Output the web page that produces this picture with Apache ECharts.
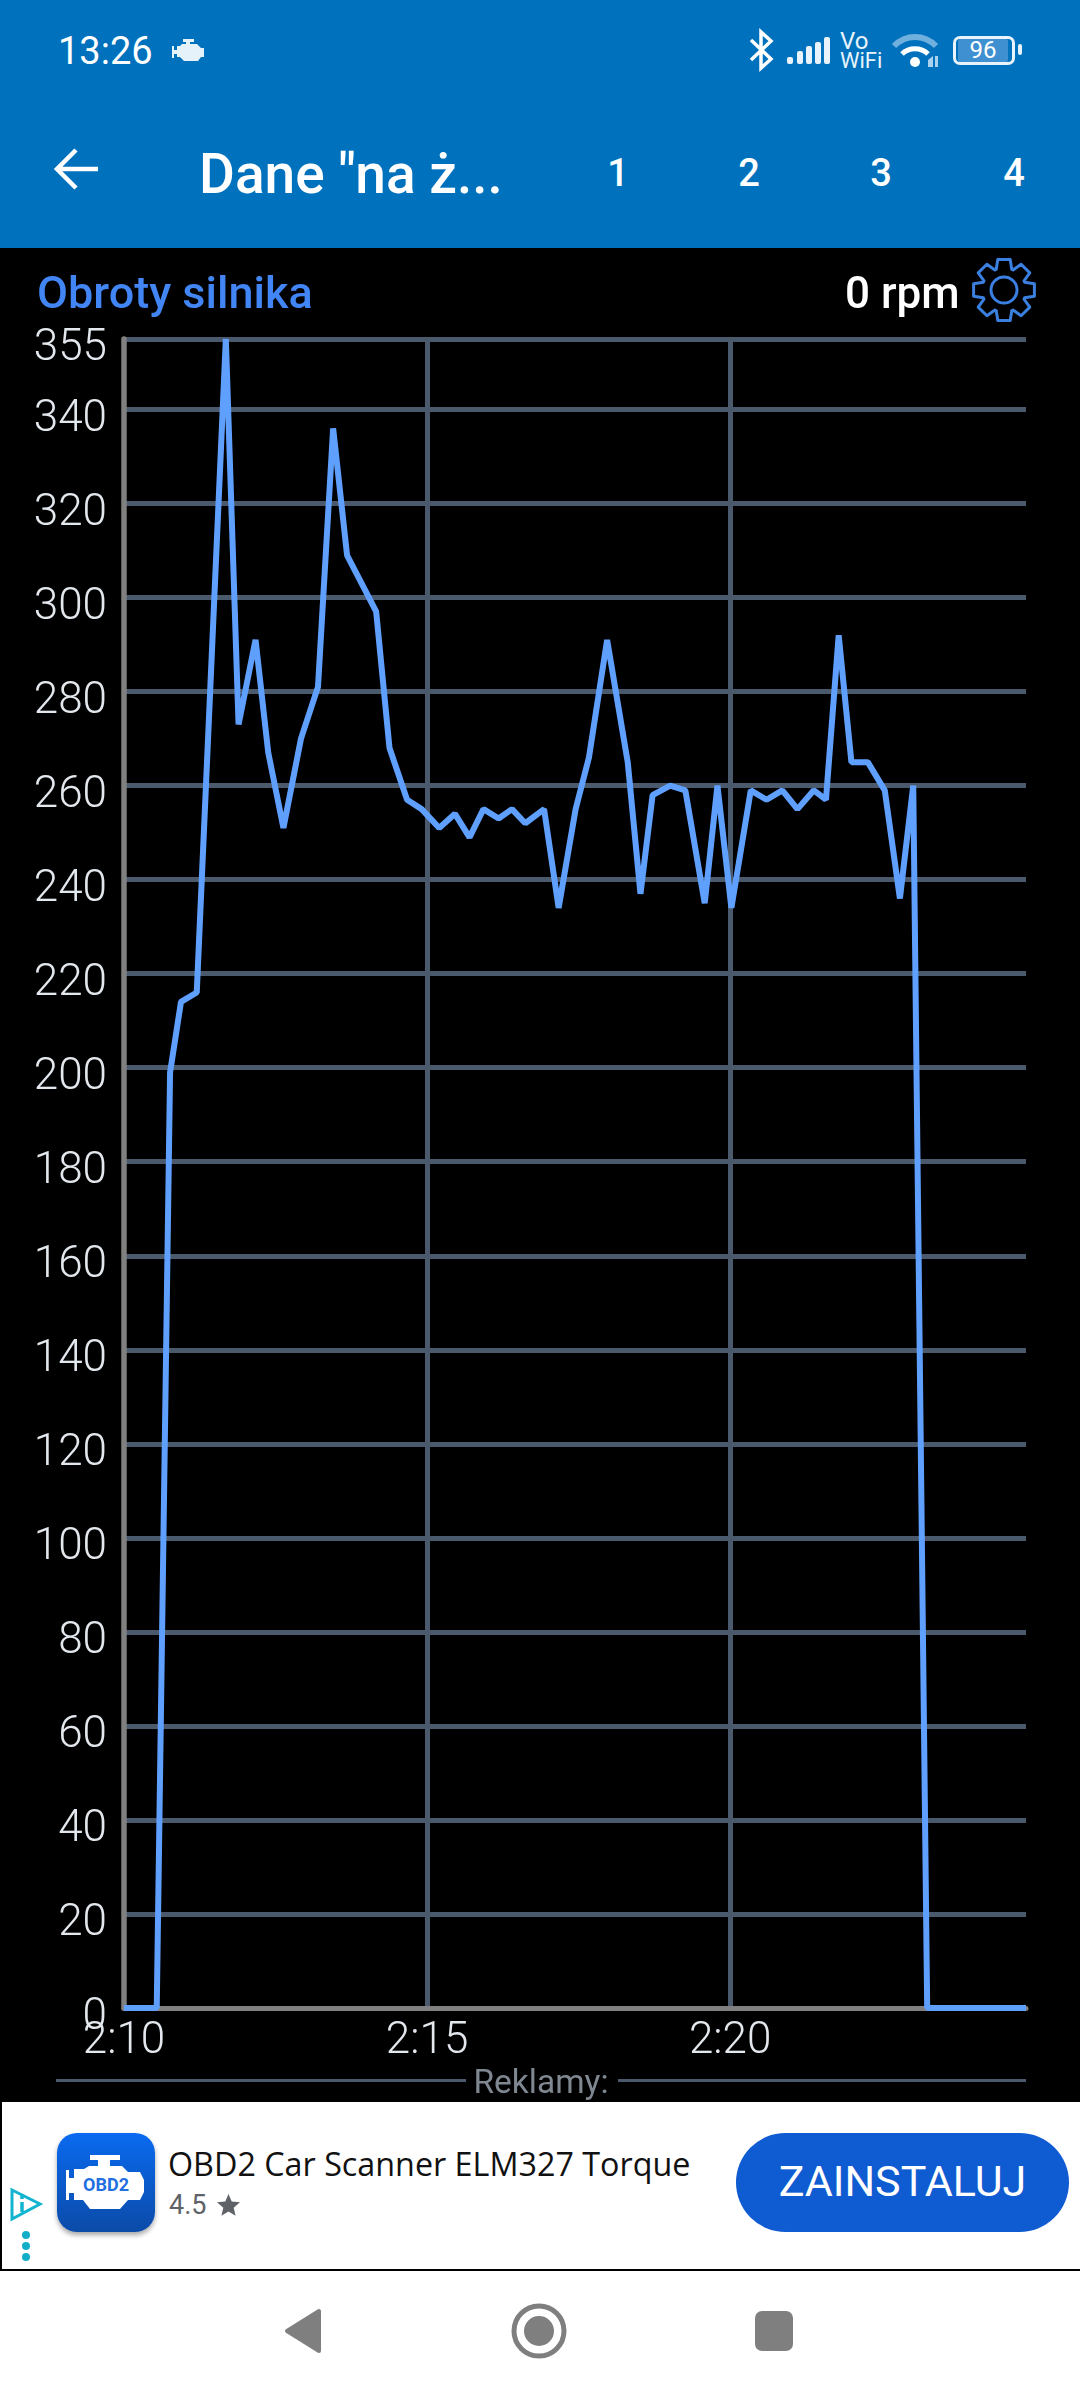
<!DOCTYPE html>
<html lang="pl">
<head>
<meta charset="utf-8">
<title>Obroty silnika</title>
<script src="https://cdn.jsdelivr.net/npm/echarts@6/dist/echarts.min.js"></script>
<style>
    html, body { margin: 0; padding: 0; background: #000; }
    #page { position: relative; width: 1080px; height: 2400px; overflow: hidden; background: #000; font-family: Roboto, sans-serif; }
    #chart { position: absolute; left: 0; top: 0; width: 1080px; height: 2400px; }
    .t { position: absolute; white-space: nowrap; line-height: 1; }
    .box { position: absolute; }
    svg { position: absolute; overflow: visible; }
</style>
</head>
<body>
<div id="page">
    <div id="chart"></div>

    <!-- app bar -->
    <div class="box" style="left:0;top:0;width:1080px;height:248px;background:#0071bc"></div>
    <div class="t" style="left:58px;top:32px;font-size:38px;color:#fff">13:26</div>
    <svg style="left:172px;top:38px" width="34" height="24" viewBox="0 0 34 24">
        <path fill="#e6f2fa" d="M11 1h11v3h-4v2h7l4 4h3v9h-3l-3 4H12l-4-4H5v-3H2v4H0V8h2v4h3V8h3l2-2h4V4h-3z"/>
    </svg>
    <!-- bluetooth -->
    <svg style="left:749px;top:30px" width="24" height="40" viewBox="0 0 24 40">
        <path fill="none" stroke="#fff" stroke-width="3.5" d="M2 10 22 29 12 38V2l10 9L2 30"/>
    </svg>
    <!-- signal -->
    <svg style="left:787px;top:37px" width="44" height="27" viewBox="0 0 44 27" fill="#e8f3fb">
        <rect x="0" y="20" width="6" height="7" rx="2"/><rect x="10" y="14" width="6" height="13" rx="2"/>
        <rect x="19" y="9" width="6" height="18" rx="2"/><rect x="28" y="5" width="6" height="22" rx="2"/>
        <rect x="37" y="0" width="6" height="27" rx="2"/>
    </svg>
    <div class="t" style="left:840px;top:29px;font-size:24px;color:#e8f3fb">Vo</div>
    <div class="t" style="left:840px;top:50px;font-size:22px;color:#e8f3fb">WiFi</div>
    <!-- wifi -->
    <svg style="left:892px;top:33px" width="46" height="35" viewBox="0 0 46 35" fill="none">
        <path stroke="#6fb0de" stroke-width="6" d="M2 13C14 1 32 1 44 13"/>
        <path stroke="#fff" stroke-width="5" d="M10 21C17 14 29 14 36 21"/>
        <circle cx="23" cy="29" r="5" fill="#fff"/>
        <path fill="#a8d2ee" d="M36 34v-7l5-4v11zM43 23h3v11h-3z"/>
    </svg>
    <!-- battery -->
    <div class="box" style="left:953px;top:36px;width:56px;height:23px;border:3px solid #e8f3fb;border-radius:7px"></div>
    <div class="box" style="left:958px;top:39px;width:50px;height:23px;background:#3f90d0;border-radius:2px"></div>
    <div class="t" style="left:958px;top:38px;width:50px;text-align:center;font-size:24px;color:#fff">96</div>
    <div class="box" style="left:1018px;top:44px;width:4px;height:11px;background:#e8f3fb;border-radius:2px"></div>

    <svg style="left:54px;top:148px" width="44" height="42" viewBox="0 0 44 42" fill="none">
        <path stroke="#fff" stroke-width="4.5" d="M44 21H3M22 2 3 21l19 19"/>
    </svg>
    <div class="t" style="left:199px;top:147px;font-size:55px;font-weight:500;color:#fff">Dane "na ż...</div>
    <div class="t" style="left:588px;top:154px;width:60px;text-align:center;font-size:38px;font-weight:500;color:#fff">1</div>
    <div class="t" style="left:719px;top:154px;width:60px;text-align:center;font-size:38px;font-weight:500;color:#fff">2</div>
    <div class="t" style="left:851px;top:154px;width:60px;text-align:center;font-size:38px;font-weight:500;color:#fff">3</div>
    <div class="t" style="left:984px;top:154px;width:60px;text-align:center;font-size:38px;font-weight:500;color:#fff">4</div>

    <!-- current value + gear -->
    <div class="t" style="left:845px;top:271px;font-size:44px;font-weight:500;color:#fff">0 rpm</div>
    <svg style="left:971px;top:257px" width="66" height="66" viewBox="-33 -33 66 66" fill="none" stroke="#3b7fe0" stroke-width="3">
        <circle r="13"/>
        <path id="gear" stroke-linejoin="round"/>
    </svg>

    <!-- ad section -->
    <div class="box" style="left:56px;top:2079px;width:410px;height:3px;background:#4a5a6c"></div>
    <div class="box" style="left:618px;top:2079px;width:408px;height:3px;background:#4a5a6c"></div>
    <div class="t" style="left:441px;top:2065px;width:200px;text-align:center;font-size:33.5px;color:#7f8790">Reklamy:</div>
    <div class="box" style="left:0;top:2102px;width:1080px;height:298px;background:#fff"></div>
    <div class="box" style="left:0;top:2102px;width:2px;height:168px;background:#000"></div>
    <div class="box" style="left:0;top:2269px;width:1080px;height:2px;background:#000"></div>

    <svg style="left:10px;top:2188px" width="32" height="33" viewBox="0 0 32 33" fill="none">
        <path stroke="#12b4d0" stroke-width="3" d="M2 2 30 16 2 31Z"/>
        <path stroke="#12b4d0" stroke-width="3.5" d="M12 14v10M12 8v3"/>
    </svg>
    <svg style="left:21px;top:2230px" width="10" height="32" viewBox="0 0 10 32" fill="#12aec8">
        <circle cx="5" cy="5" r="4"/><circle cx="5" cy="16" r="4"/><circle cx="5" cy="27" r="4"/>
    </svg>
    <div class="box" style="left:57px;top:2133px;width:98px;height:99px;border-radius:20px;background:linear-gradient(#0a6af0,#0b4ba8);box-shadow:0 3px 5px rgba(0,0,0,.35)"></div>
    <svg style="left:66px;top:2155px" width="80" height="56" viewBox="0 0 80 56">
        <path fill="#fff" d="M24 0h30v5H44v6h12l6 6h12l4 8v12l-4 8H62l-8 9H24l-7-9H8v-7H3v7H0V15h3v8h5V14h10l5-3h9V5h-8z"/>
    </svg>
    <div class="t" style="left:78px;top:2176px;width:56px;text-align:center;font-size:18px;font-weight:700;color:#1f6fe0">OBD2</div>
    <div class="t" style="left:168px;top:2147px;font-size:32.3px;font-family:'Open Sans',sans-serif;color:#111">OBD2 Car Scanner ELM327 Torque</div>
    <div class="t" style="left:169px;top:2192px;font-size:27px;color:#5f6368">4.5</div>
    <svg style="left:216px;top:2193px" width="25" height="24" viewBox="0 0 24 24">
        <path fill="#5f6368" d="M12 1l3.2 7.6 8.3.7-6.3 5.4 1.9 8.1L12 18.5 4.900 22.800l1.900-8.100L.5 9.300l8.300-.7z"/>
    </svg>
    <div class="box" style="left:736px;top:2133px;width:333px;height:99px;border-radius:50px;background:#0f5bd1"></div>
    <div class="t" style="left:736px;top:2160px;width:333px;text-align:center;font-size:43px;color:#fff">ZAINSTALUJ</div>

    <!-- navigation bar -->
    <svg style="left:284px;top:2308px" width="38" height="46" viewBox="0 0 38 46">
        <path fill="#7f7f7f" stroke="#7f7f7f" stroke-width="4" stroke-linejoin="round" d="M35 3V43L3 23Z"/>
    </svg>
    <svg style="left:510px;top:2302px" width="58" height="58" viewBox="0 0 58 58">
        <circle cx="29" cy="29" r="25" fill="none" stroke="#7f7f7f" stroke-width="5"/>
        <circle cx="29" cy="29" r="15" fill="#7f7f7f"/>
    </svg>
    <div class="box" style="left:755px;top:2311px;width:38px;height:40px;border-radius:7px;background:#7f7f7f"></div>
</div>

<script>
    // czas w minutach (2:10 = 130)
    var timeMinutes = [130.00, 130.54, 130.76, 130.94, 131.20, 131.68, 131.89, 132.17, 132.38, 132.63,
        132.92, 133.20, 133.45, 133.68, 133.92, 134.16, 134.38, 134.67, 134.91, 135.20,
        135.46, 135.70, 135.93, 136.18, 136.40, 136.62, 136.93, 137.17, 137.45, 137.67,
        137.97, 138.31, 138.52, 138.72, 139.01, 139.26, 139.58, 139.79, 140.02, 140.34,
        140.60, 140.86, 141.11, 141.38, 141.58, 141.79, 142.00, 142.27, 142.55, 142.80,
        143.02, 143.25, 144.88];
    var rpmValues = [0, 0, 199, 214, 216, 355, 273, 291, 267, 251,
        270, 281, 336, 309, 303, 297, 268, 257, 255, 251,
        254, 249, 255, 253, 255, 252, 255, 234, 255, 266,
        291, 265, 237, 258, 260, 259, 235, 260, 234, 259,
        257, 259, 255, 259, 257, 292, 265, 265, 259, 236,
        260, 0, 0];
    var seriesName = 'Obroty silnika';

    // zebatka: 8 zebow dookola srodka
    var gearPath = '';
    for (var g = 0; g < 8; g++) {
        var a = g * Math.PI / 4 - Math.PI / 2;
        [[-0.36, 22], [-0.2, 31], [0.2, 31], [0.36, 22]].forEach(function (p, k) {
            var x = Math.cos(a + p[0]) * p[1], y = Math.sin(a + p[0]) * p[1];
            gearPath += (g === 0 && k === 0 ? 'M' : 'L') + x.toFixed(1) + ' ' + y.toFixed(1);
        });
    }
    document.getElementById('gear').setAttribute('d', gearPath + 'Z');

    var myChart = echarts.init(document.getElementById('chart'), null, {renderer: 'canvas'});
    var points = timeMinutes.map(function (t, i) {
        return [t, rpmValues[i]];
    });
    var option = {
        animation: false,
        backgroundColor: 'transparent',
        title: {
            text: seriesName,
            left: 37,
            top: 274,
            padding: 0,
            textStyle: {color: '#4285f4', fontFamily: 'Roboto', fontSize: 45, fontWeight: 500}
        },
        grid: {left: 124, right: 54, top: 339, bottom: 392},
        xAxis: {
            type: 'value',
            min: 130,
            max: 144.88,
            interval: 5,
            axisLine: {onZero: false, lineStyle: {color: '#808080', width: 5}},
            axisTick: {show: false},
            axisLabel: {
                color: '#e3e8ee',
                fontFamily: 'Roboto',
                fontWeight: 300,
                fontSize: 44,
                margin: 12,
                showMaxLabel: false,
                formatter: function (v) {
                    var m = v % 60;
                    return Math.floor(v / 60) + ':' + (m < 10 ? '0' + m : m);
                }
            },
            splitLine: {show: true, showMinLine: false, showMaxLine: false, lineStyle: {color: '#4a5a6c', width: 5}}
        },
        yAxis: {
            type: 'value',
            min: 0,
            max: 355,
            interval: 20,
            axisLine: {show: true, onZero: false, lineStyle: {color: '#808080', width: 5.5}},
            axisTick: {show: false},
            axisLabel: {
                color: '#e3e8ee',
                fontFamily: 'Roboto',
                fontWeight: 300,
                fontSize: 44,
                margin: 17,
                verticalAlign: 'top',
                lineHeight: 20
            },
            splitLine: {show: true, showMinLine: false, lineStyle: {color: '#4a5a6c', width: 5}}
        },
        series: [{
            name: seriesName,
            type: 'line',
            data: points,
            showSymbol: false,
            clip: true,
            lineStyle: {color: '#5fa0ff', width: 6, join: 'bevel'}
        }]
    };
    myChart.setOption(option);
</script>
</body>
</html>
